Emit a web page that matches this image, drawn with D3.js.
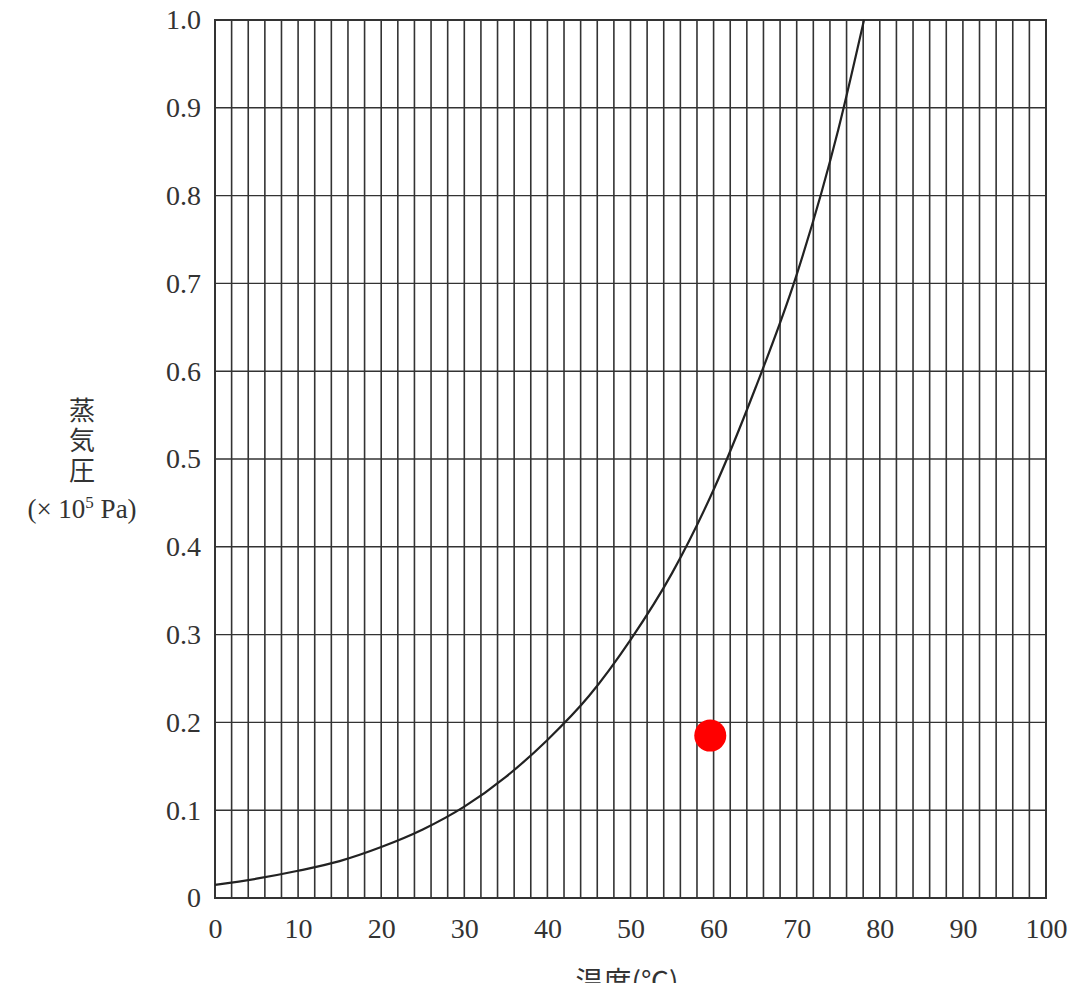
<!DOCTYPE html>
<html>
<head>
<meta charset="utf-8">
<script src="https://cdn.jsdelivr.net/npm/d3@7"></script>
<style>
  body { margin: 0; background: #fff; }
  text { font-family: "Liberation Serif", "DejaVu Serif", serif; fill: #333; }
  .jp { font-family: "Noto Sans CJK JP", sans-serif; }
</style>
</head>
<body>
<div id="chart"></div>
<script>
// vapor pressure curve (x 10^5 Pa) vs temperature (°C)
var temps = [0, 5, 10, 15, 20, 25, 30, 35, 40, 45, 50, 55, 60, 65, 70, 75, 78.1];
var pressures = [0.015, 0.022, 0.031, 0.042, 0.058, 0.078, 0.104, 0.138, 0.18, 0.23, 0.294, 0.37, 0.465, 0.58, 0.71, 0.875, 1.0];
var xTicks = [0, 10, 20, 30, 40, 50, 60, 70, 80, 90, 100];
var yTicks = [0, 0.1, 0.2, 0.3, 0.4, 0.5, 0.6, 0.7, 0.8, 0.9, 1.0];
var yTickLabels = ['0', '0.1', '0.2', '0.3', '0.4', '0.5', '0.6', '0.7', '0.8', '0.9', '1.0'];
var marker = [{ t: 59.6, p: 0.185 }];

function drawChart() {
    var width = 1071, height = 983;
    var margin = { left: 215, right: 25, top: 20, bottom: 85 };

    var svg = d3.select('#chart').append('svg')
        .attr('width', width)
        .attr('height', height);

    var x = d3.scaleLinear().domain([0, 100]).range([margin.left, width - margin.right]);
    var y = d3.scaleLinear().domain([0, 1]).range([height - margin.bottom, margin.top]);

    // vertical grid every 2 °C
    svg.append('g').selectAll('line')
        .data(d3.range(2, 100, 2))
        .enter().append('line')
        .attr('x1', function(d) { return x(d); })
        .attr('x2', function(d) { return x(d); })
        .attr('y1', y(0)).attr('y2', y(1))
        .attr('stroke', '#333')
        .attr('stroke-width', 1.6);

    // horizontal grid
    svg.append('g').selectAll('line')
        .data(yTicks.slice(1, -1))
        .enter().append('line')
        .attr('x1', x(0)).attr('x2', x(100))
        .attr('y1', function(d) { return y(d); })
        .attr('y2', function(d) { return y(d); })
        .attr('stroke', '#333')
        .attr('stroke-width', 1.4);

    // frame
    svg.append('rect')
        .attr('x', x(0)).attr('y', y(1))
        .attr('width', x(100) - x(0)).attr('height', y(0) - y(1))
        .attr('fill', 'none')
        .attr('stroke', '#333')
        .attr('stroke-width', 2);

    // axes (labels only)
    var xAxis = d3.axisBottom(x).tickValues(xTicks).tickSize(0).tickPadding(20);
    var gx = svg.append('g').attr('transform', 'translate(0,' + y(0) + ')').call(xAxis);
    gx.select('.domain').remove();
    gx.selectAll('text').attr('font-size', 28).attr('font-family', '"Liberation Serif", serif').attr('fill', '#333');

    var yAxis = d3.axisLeft(y).tickValues(yTicks).tickSize(0).tickPadding(14)
        .tickFormat(function(d, i) { return yTickLabels[i]; });
    var gy = svg.append('g').attr('transform', 'translate(' + x(0) + ',0)').call(yAxis);
    gy.select('.domain').remove();
    gy.selectAll('text').attr('font-size', 28).attr('font-family', '"Liberation Serif", serif').attr('fill', '#333');

    // curve
    var line = d3.line()
        .x(function(d, i) { return x(temps[i]); })
        .y(function(d) { return y(d); })
        .curve(d3.curveMonotoneX);
    svg.append('path')
        .datum(pressures)
        .attr('d', line)
        .attr('fill', 'none')
        .attr('stroke', '#222')
        .attr('stroke-width', 2.2);

    // red marker
    svg.selectAll('circle.mark')
        .data(marker)
        .enter().append('circle')
        .attr('class', 'mark')
        .attr('cx', function(d) { return x(d.t); })
        .attr('cy', function(d) { return y(d.p); })
        .attr('r', 16)
        .attr('fill', '#ff0000');

    // y title, written vertically
    svg.append('text').attr('class', 'jp')
        .attr('x', 82).attr('y', 442)
        .attr('text-anchor', 'middle')
        .attr('font-size', 26)
        .style('writing-mode', 'vertical-rl')
        .style('letter-spacing', '4px')
        .text('蒸気圧');
    var unit = svg.append('text')
        .attr('x', 82).attr('y', 518)
        .attr('text-anchor', 'middle')
        .attr('font-size', 27);
    unit.append('tspan').text('(× 10');
    unit.append('tspan').attr('font-size', 17).attr('dy', -10).text('5');
    unit.append('tspan').attr('dy', 10).text(' Pa)');

    // x title (cut off at bottom, as in the original scan)
    svg.append('text').attr('class', 'jp')
        .attr('x', 627).attr('y', 992)
        .attr('text-anchor', 'middle')
        .attr('font-size', 28)
        .text('温度(℃)');
}

document.addEventListener('DOMContentLoaded', drawChart);
</script>
</body>
</html>
